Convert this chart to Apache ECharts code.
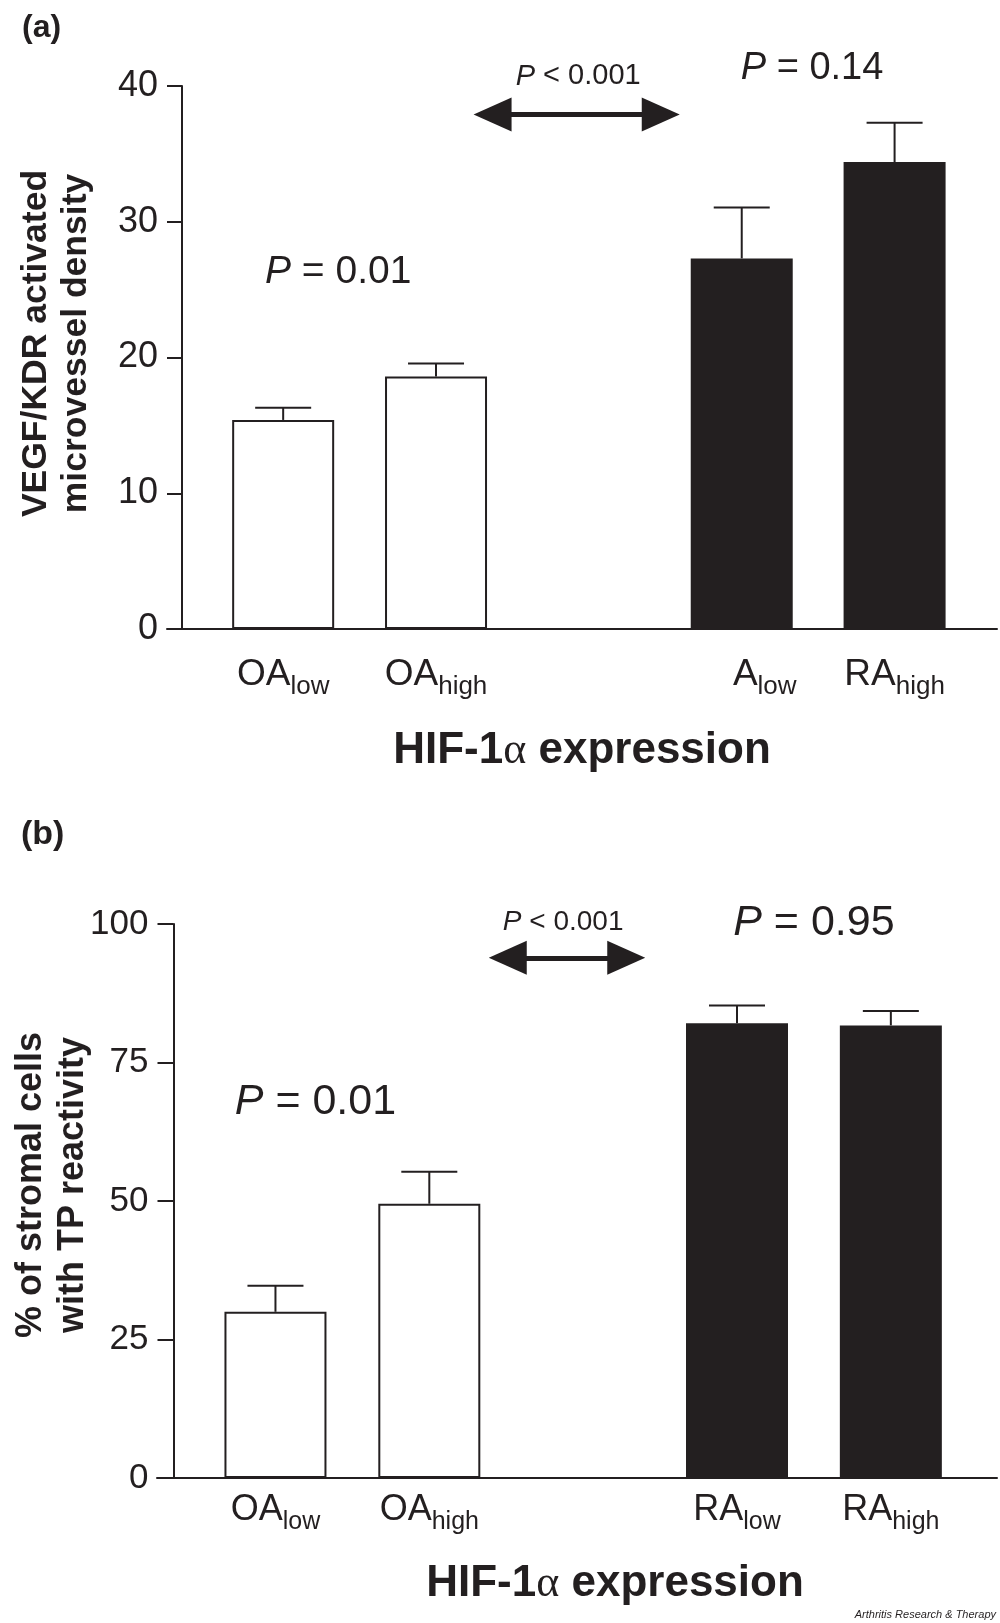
<!DOCTYPE html>
<html>
<head>
<meta charset="utf-8">
<script src="https://cdn.jsdelivr.net/npm/echarts@6/dist/echarts.min.js"></script>
<style>
  html, body { margin: 0; padding: 0; background: #fff; }
  #chart { width: 1000px; height: 1623px; }
</style>
</head>
<body>
<div id="chart"></div>
<script>
// bar positions on the x scale (slot 3 is the gap between OA and RA)
const positions = [1, 2, 4, 5];
const disease = ['OA', 'OA', 'RA', 'RA'];
const labelsA = ['OA', 'OA', 'A', 'RA'];   // panel (a) prints "A" for RA low
const labelsB = ['OA', 'OA', 'RA', 'RA'];
const subs = ['low', 'high', 'low', 'high'];

// (a) VEGF/KDR activated microvessel density, mean and SEM
const vegfMean = [15.4, 18.6, 27.3, 34.4];
const vegfSem = [0.9, 0.95, 3.75, 2.9];
const vegfTicks = { min: 0, max: 40, step: 10 };

// (b) % of stromal cells with TP reactivity
const tpMean = [30.0, 49.5, 82.1, 81.7];
const tpSem = [4.7, 5.8, 3.2, 2.6];
const tpTicks = { min: 0, max: 100, step: 25 };

// P value annotations, in data coordinates
const arrowA = { from: 2.37, to: 3.47, y: 37.9 };
const arrowB = { from: 2.51, to: 3.28, y: 93.9 };
const notesA = [
  { x: 1.36, y: 26.3, text: '= 0.01', size: 39 },
  { x: 2.93, y: 40.7, text: '< 0.001', size: 29 },
  { x: 4.46, y: 41.3, text: '= 0.14', size: 38 }
];
const notesB = [
  { x: 1.26, y: 67.9, text: '= 0.01', size: 43 },
  { x: 2.87, y: 100.3, text: '< 0.001', size: 28 },
  { x: 4.50, y: 100.2, text: '= 0.95', size: 43 }
];

const ink = '#231f20';
const font = "'Liberation Sans', Arial, Helvetica, sans-serif";

const chart = echarts.init(document.getElementById('chart'));

const barData = (means) => means.map((m, i) => ({
  value: [positions[i], m],
  itemStyle: disease[i] === 'OA'
    ? { color: '#fff', borderColor: ink, borderWidth: 2 }
    : { color: ink, borderColor: ink, borderWidth: 0 }
}));

const errSeries = (idx, means, sems) => ({
  type: 'custom',
  xAxisIndex: idx,
  yAxisIndex: idx,
  z: 3,
  data: means.map((m, i) => [positions[i], m, m + sems[i]]),
  renderItem: (params, api) => {
    const base = api.coord([api.value(0), api.value(1)]);
    const top = api.coord([api.value(0), api.value(2)]);
    const half = 28;
    return {
      type: 'group',
      children: [
        { type: 'line', shape: { x1: base[0], y1: base[1], x2: top[0], y2: top[1] }, style: { stroke: ink, lineWidth: 2 } },
        { type: 'line', shape: { x1: top[0] - half, y1: top[1], x2: top[0] + half, y2: top[1] }, style: { stroke: ink, lineWidth: 2 } }
      ]
    };
  }
});

const barSeries = (idx, means, arrow) => ({
  type: 'bar',
  xAxisIndex: idx,
  yAxisIndex: idx,
  barWidth: 102,
  data: barData(means),
  markLine: {
    silent: true,
    symbol: ['triangle', 'triangle'],
    symbolSize: [34, 38],
    label: { show: false },
    lineStyle: { color: ink, width: 5, type: 'solid' },
    data: [[{ coord: [arrow.from, arrow.y] }, { coord: [arrow.to, arrow.y] }]]
  }
});

const xLabelRich = (mainSize, subSize) => ({
  m: { fontSize: mainSize, fontFamily: font, color: ink, lineHeight: 44 },
  ma: { fontSize: mainSize, fontFamily: font, color: ink, lineHeight: 44, padding: [0, 0, 0, 46] },
  s: { fontSize: subSize, fontFamily: font, color: ink, lineHeight: 44, padding: [24, 0, 0, 0] }
});

const xAxis = (idx, labels, opts) => ({
  gridIndex: idx,
  type: 'value',
  min: opts.min,
  max: opts.max,
  axisLine: { show: true, onZero: false, lineStyle: { color: ink, width: 2 } },
  axisTick: { show: false },
  splitLine: { show: false },
  axisLabel: {
    customValues: positions,
    margin: opts.margin,
    formatter: (v) => {
      const i = positions.indexOf(Math.round(v));
      if (i < 0) return '';
      const tag = labels[i] === 'A' ? 'ma' : 'm';
      return '{' + tag + '|' + labels[i] + '}{s|' + subs[i] + '}';
    },
    rich: xLabelRich(opts.mainSize, opts.subSize)
  },
  name: 'HIF-1{g|α} expression',
  nameLocation: 'middle',
  nameGap: opts.nameGap,
  nameMoveOverlap: false,
  nameTextStyle: {
    fontSize: 44,
    fontWeight: 'bold',
    fontFamily: font,
    color: ink,
    lineHeight: 50,
    padding: opts.namePad,
    rich: {
      g: { fontSize: 44, fontFamily: "'Liberation Serif', 'DejaVu Serif', serif", fontWeight: 'normal', color: ink, lineHeight: 50 }
    }
  }
});

const yAxis = (idx, ticks, name, opts) => ({
  gridIndex: idx,
  type: 'value',
  min: ticks.min,
  max: ticks.max,
  interval: ticks.step,
  offset: opts.offset,
  axisLine: { show: true, onZero: false, lineStyle: { color: ink, width: 2 } },
  axisTick: { show: true, length: opts.tick, lineStyle: { color: ink, width: 2 } },
  splitLine: { show: false },
  axisLabel: { fontSize: opts.labelSize, fontFamily: font, color: ink, margin: opts.tick + 9 },
  name: name,
  nameLocation: 'middle',
  nameRotate: 90,
  nameGap: opts.nameGap,
  nameMoveOverlap: false,
  nameTextStyle: {
    fontSize: opts.nameSize,
    fontWeight: 'bold',
    fontFamily: font,
    color: ink,
    lineHeight: opts.nameLine,
    padding: opts.namePad
  }
});

chart.setOption({
  animation: false,
  backgroundColor: '#fff',
  grid: [
    { left: 167, right: 3, top: 86, height: 543, outerBoundsMode: 'none', containLabel: false },
    { left: 157, right: 3, top: 924, height: 554, outerBoundsMode: 'none', containLabel: false }
  ],
  xAxis: [
    xAxis(0, labelsA, { min: 0.24, max: 5.67, margin: 24, mainSize: 37, subSize: 26, nameGap: 97, namePad: [0, 0, 0, 0] }),
    xAxis(1, labelsB, { min: 0.23, max: 5.69, margin: 10, mainSize: 36, subSize: 25, nameGap: 81, namePad: [0, 0, 0, 76] })
  ],
  yAxis: [
    yAxis(0, vegfTicks, 'VEGF/KDR activated\nmicrovessel density',
      { offset: -15, tick: 15, labelSize: 36, nameSize: 35.5, nameGap: 86, nameLine: 40, namePad: [0, 0, 0, 28] }),
    yAxis(1, tpTicks, '% of stromal cells\nwith TP reactivity',
      { offset: -16.5, tick: 16, labelSize: 35, nameSize: 36, nameGap: 79, nameLine: 42, namePad: [0, 0, 0, 32] })
  ],
  series: [
    barSeries(0, vegfMean, arrowA),
    errSeries(0, vegfMean, vegfSem),
    barSeries(1, tpMean, arrowB),
    errSeries(1, tpMean, tpSem)
  ]
});

// annotations placed through the axes
const noteGraphic = (gridIndex, n) => {
  const p = chart.convertToPixel({ gridIndex: gridIndex }, [n.x, n.y]);
  return {
    type: 'text',
    x: p[0],
    y: p[1],
    style: {
      text: '{i|P} ' + n.text,
      align: 'center',
      verticalAlign: 'middle',
      fontSize: n.size,
      fontFamily: font,
      fill: ink,
      rich: { i: { fontSize: n.size, fontFamily: font, fontStyle: 'italic', fill: ink } }
    }
  };
};

chart.setOption({
  graphic: [
    { type: 'text', left: 22, top: 12, style: { text: '(a)', fontSize: 32, fontWeight: 'bold', fontFamily: font, fill: ink } },
    { type: 'text', left: 21, top: 818, style: { text: '(b)', fontSize: 34, fontWeight: 'bold', fontFamily: font, fill: ink } },
    { type: 'text', right: 4, bottom: 3, style: { text: 'Arthritis Research & Therapy', fontSize: 11, fontStyle: 'italic', fontFamily: font, fill: ink } }
  ]
    .concat(notesA.map(n => noteGraphic(0, n)))
    .concat(notesB.map(n => noteGraphic(1, n)))
});
</script>
</body>
</html>
